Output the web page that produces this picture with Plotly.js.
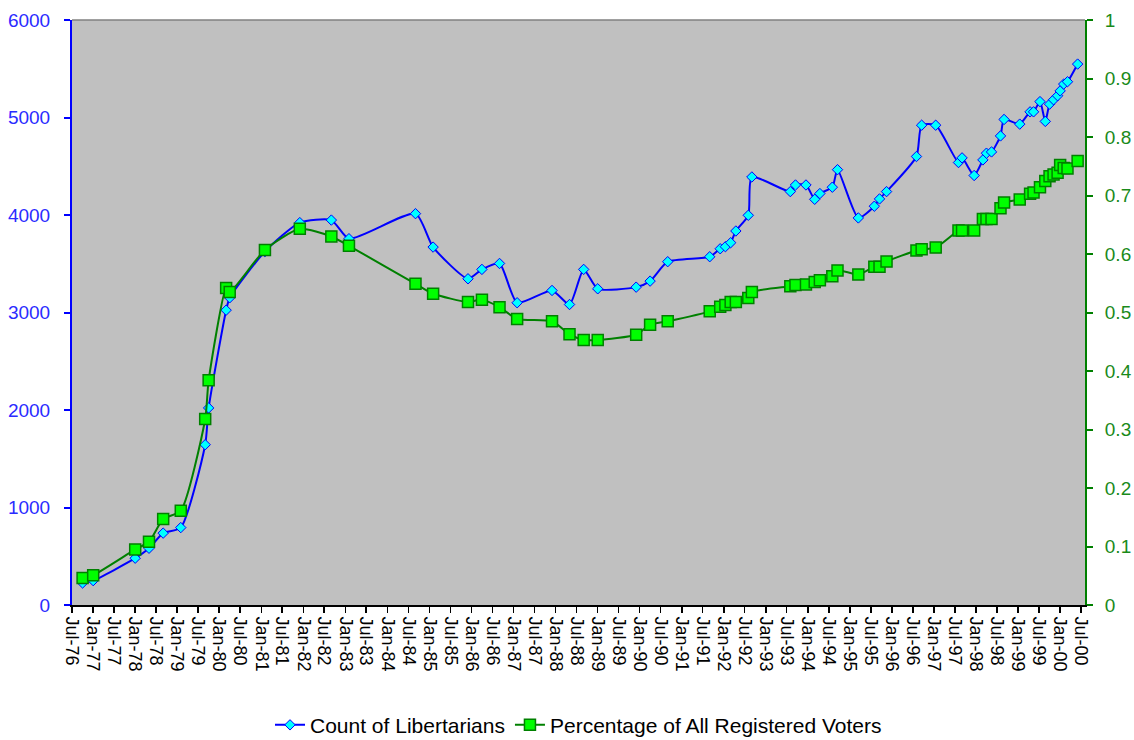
<!DOCTYPE html>
<html><head><meta charset="utf-8">
<script src="https://cdn.plot.ly/plotly-3.0.1.min.js"></script>
<style>html,body{margin:0;padding:0;background:#fff}#chart{width:1134px;height:740px}</style>
</head><body><div id="chart"></div>
<script>
const dates = [
 "1976-10-01","1977-01-01","1978-01-01","1978-05-01","1978-09-01","1979-02-01","1979-09-01","1979-10-01",
 "1980-03-01","1980-04-01","1981-02-01","1981-12-01","1982-09-01","1983-02-01","1984-09-01","1985-02-01",
 "1985-12-01","1986-04-01","1986-09-01","1987-02-01","1987-12-01","1988-05-01","1988-09-01","1989-01-01",
 "1989-12-01","1990-04-01","1990-09-01","1991-09-01","1991-12-01","1992-01-15","1992-03-01","1992-04-15",
 "1992-08-01","1992-09-01","1993-08-01","1993-09-15","1993-12-15","1994-03-01","1994-04-15","1994-08-01",
 "1994-09-15","1995-03-15","1995-08-01","1995-09-15","1995-11-15","1996-08-01","1996-09-15","1997-01-15",
 "1997-08-01","1997-09-01","1997-12-15","1998-03-01","1998-04-01","1998-05-15","1998-08-01","1998-09-01",
 "1999-01-15","1999-04-15","1999-05-15","1999-07-10","1999-08-25","1999-10-01","1999-11-05","1999-12-10",
 "2000-01-01","2000-02-01","2000-03-05","2000-06-01"
];
const libertarianCount = [
 226, 250, 480, 582, 737, 794, 1644, 2021,
 3024, 3151, 3625, 3922, 3948, 3757, 4014, 3671,
 3346, 3442, 3503, 3100, 3226, 3082, 3442, 3243,
 3260, 3322, 3521, 3572, 3654, 3675, 3716, 3836,
 3997, 4390, 4240, 4308, 4308, 4161, 4220, 4285,
 4465, 3970, 4090, 4165, 4240, 4600, 4921, 4921,
 4538, 4586, 4405, 4565, 4634, 4647, 4811, 4980,
 4932, 5058, 5058, 5163, 4960, 5137, 5182, 5223,
 5273, 5343, 5367, 5548
];
const registeredPct = [
 0.046, 0.051, 0.095, 0.108, 0.147, 0.161, 0.318, 0.384,
 0.542, 0.535, 0.607, 0.643, 0.630, 0.614, 0.549, 0.532,
 0.518, 0.522, 0.509, 0.489, 0.485, 0.463, 0.453, 0.453,
 0.462, 0.479, 0.485, 0.502, 0.510, 0.513, 0.518, 0.518,
 0.525, 0.535, 0.545, 0.547, 0.548, 0.552, 0.555, 0.562,
 0.572, 0.565, 0.578, 0.578, 0.587, 0.606, 0.608, 0.611,
 0.640, 0.640, 0.640, 0.660, 0.660, 0.660, 0.678, 0.688,
 0.693, 0.703, 0.705, 0.714, 0.725, 0.733, 0.736, 0.739,
 0.752, 0.747, 0.746, 0.759
];
const seriesNames = ["Count of Libertarians", "Percentage of All Registered Voters"];

const FONT = "Liberation Sans, Arial, sans-serif";
const traces = [
 {x: dates, y: libertarianCount, name: seriesNames[0], type: "scatter", mode: "lines+markers",
  line: {color: "#0000FF", width: 2, shape: "spline", smoothing: 0.6},
  marker: {symbol: "diamond", size: 8, color: "#00FFFF", line: {color: "#0000FF", width: 1}}},
 {x: dates, y: registeredPct, name: seriesNames[1], type: "scatter", mode: "lines+markers", yaxis: "y2",
  line: {color: "#008000", width: 2, shape: "spline", smoothing: 0.6},
  marker: {symbol: "square", size: 11, color: "#00FF00", line: {color: "#008000", width: 1.5}}}
];
const layout = {
 width: 1134, height: 740,
 margin: {l: 72, r: 49, t: 20, b: 135, autoexpand: false},
 paper_bgcolor: "#FFFFFF", plot_bgcolor: "#C0C0C0",
 font: {family: FONT},
 showlegend: true,
 legend: {orientation: "h", x: 0.5, xanchor: "center", xref: "paper", yref: "container", y: 0.02, yanchor: "middle",
  font: {family: FONT, size: 21, color: "#000"}, bgcolor: "rgba(0,0,0,0)"},
 xaxis: {type: "date", range: ["1976-07-01", "2000-08-04"], tick0: "1976-07-01", dtick: "M6", automargin: false,
  tickformat: "%b-%y", tickangle: 90, ticks: "outside", ticklen: 6, tickcolor: "#000", tickwidth: 1.5,
  showline: true, linecolor: "#000", linewidth: 2, showgrid: false, zeroline: false,
  tickfont: {family: FONT, size: 18, color: "#000"}},
 yaxis: {range: [0, 6000], dtick: 1000, tick0: 0, ticks: "outside", ticklen: 6, tickcolor: "#0000FF", tickwidth: 2,
  showline: true, linecolor: "#0000FF", linewidth: 2, showgrid: false, zeroline: false, automargin: false,
  tickfont: {family: FONT, size: 19, color: "#2B2BFF"}, ticklabelstandoff: 10},
 yaxis2: {overlaying: "y", side: "right", range: [0, 1], dtick: 0.1, tick0: 0, ticks: "outside", ticklen: 6,
  tickcolor: "#008000", tickwidth: 2, showline: true, linecolor: "#008000", linewidth: 2, automargin: false,
  showgrid: false, zeroline: false, tickfont: {family: FONT, size: 19, color: "#1A8A1A"}, ticklabelstandoff: 8},
 shapes: [{type: "line", xref: "paper", yref: "paper", x0: 0, x1: 1, y0: 1, y1: 1,
  line: {color: "#808080", width: 1.5}}]
};
Plotly.newPlot("chart", traces, layout, {displayModeBar: false, staticPlot: true});
</script></body></html>
